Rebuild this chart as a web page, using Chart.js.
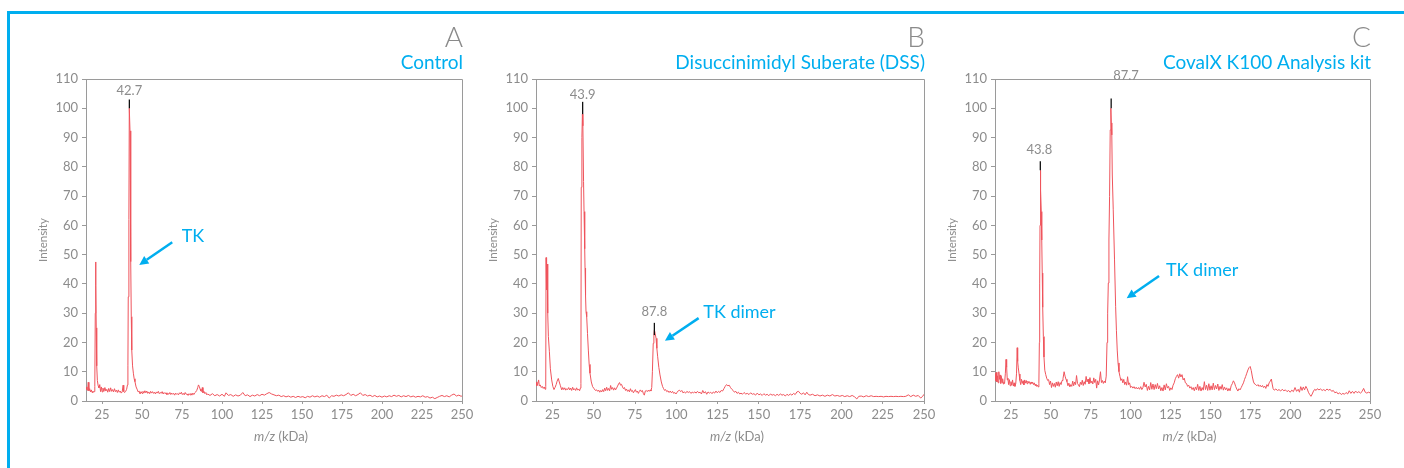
<!DOCTYPE html>
<html>
<head>
  <meta charset="utf-8">
  <title>Mass spectra: Control, DSS, CovalX K100</title>
  <script src="https://cdn.jsdelivr.net/npm/chart.js"></script>
  <style>
    body { margin: 0; background: #fff; width: 1404px; height: 468px; overflow: hidden; position: relative; font-family: Lato, sans-serif; }
    .frame { position: absolute; left: 7px; top: 11px; width: 1500px; height: 1000px; border: 3px solid #00aeef; }
    .panel { position: absolute; top: 0; }
  </style>
</head>
<body>
<div class="frame"></div>
<div class="panel" style="left:6px"><canvas id="chartA" width="476" height="468"></canvas></div>
<div class="panel" style="left:456px"><canvas id="chartB" width="488" height="468"></canvas></div>
<div class="panel" style="left:915px"><canvas id="chartC" width="475" height="468"></canvas></div>

<script>
  // panel headings
  const letters = ['A', 'B', 'C'];
  const titles = ['Control', 'Disuccinimidyl Suberate (DSS)', 'CovalX K100 Analysis kit'];

  // axes
  const xMin = 15, xMax = 250, xStep = 25;
  const yMin = 0, yMax = 110, yStep = 10;

  // spectra: [m/z (kDa), intensity]
  const specA = [
    [15,4.8],[15.5,4.0],[16,3.6],[16.4,6.4],[16.8,3.5],[17.3,4.2],[17.8,3.1],[18.3,3.8],[18.8,2.9],[19.3,3.4],
    [19.8,3.0],[20.2,3.2],[20.5,5.0],[20.8,30],[21.0,47.5],[21.2,39.5],[21.4,25],[21.7,12],[22.1,7],[22.6,5.2],
    [23.1,4.5],[23.6,5.6],[24.1,3.2],[24.6,4.8],[25.1,3.1],[25.6,4.4],[26.2,3.3],[26.8,4.6],[27.4,3.4],[28,4.0],
    [28.6,3.0],[29.2,4.3],[29.8,3.2],[30.4,4.5],[31,3.3],[31.6,3.9],[32.2,3.1],[32.8,4.2],[33.4,3.2],[34,3.7],
    [34.6,2.9],[35.2,3.8],[35.8,3.0],[36.4,3.4],[37,2.7],[37.6,3.1],[38.2,5.4],[38.6,3.2],[39.2,2.9],[39.8,3.3],
    [40.4,4.0],[40.9,5.5],[41.2,12],[41.4,35.6],[41.8,62],[42.06,100],[42.5,92.3],[42.8,72],[43.1,47.6],[43.3,28.8],
    [43.6,17.4],[44.1,12],[44.6,9.5],[45.1,7.6],[45.6,6.6],[46.3,4.8],[47.1,3.8],[47.6,3.1],[48.2,3.4],[48.8,2.4],
    [49.4,3.2],[50,2.6],[50.6,3.3],[51.2,2.7],[51.8,3.5],[52.4,2.8],[53,3.4],[53.6,2.6],[54.2,3.1],[54.8,2.5],
    [55.4,3.3],[56,2.7],[56.6,3.2],[57.2,2.6],[57.8,3.0],[58.4,2.4],[59,3.1],[59.6,2.7],[60.2,3.3],[60.8,2.5],
    [61.4,2.9],[62,2.6],[62.6,3.2],[63.2,2.4],[63.8,2.9],[64.4,2.5],[65,2.8],[65.6,2.2],[66.2,2.6],[66.8,2.3],
    [67.4,2.9],[68,2.2],[68.6,2.7],[69.2,2.3],[69.8,2.6],[70.4,2.0],[71,2.7],[71.6,2.3],[72.2,2.5],[72.8,2.1],
    [73.4,2.8],[74,2.4],[74.6,3.0],[75.2,2.2],[75.8,2.6],[76.4,2.1],[77,2.9],[77.6,2.3],[78.2,2.4],[78.8,1.9],
    [79.4,2.5],[80,2.1],[80.6,2.6],[81.2,2.0],[81.8,2.7],[82.4,2.2],[83,2.8],[83.6,3.1],[84.2,3.6],[84.8,4.5],
    [85.3,5.5],[85.8,5.0],[86.3,4.1],[86.8,3.4],[87.3,3.3],[87.7,4.6],[88.1,2.8],[88.7,3.3],[89.3,2.5],[89.9,2.9],
    [90.5,2.1],[91,2.4],[92.5,1.9],[94,2.5],[95.5,1.8],[97,2.2],[98.5,1.7],[100,2.3],[101.5,1.6],[102.5,2.8],
    [104,1.9],[105.5,2.2],[107,1.6],[108.5,2.1],[110,1.7],[111.5,2.0],[113,2.9],[114.5,1.8],[116,2.1],[117.5,1.5],
    [119,2.0],[120.5,1.7],[122,2.2],[123.5,1.8],[125,2.3],[126.5,2.0],[128,2.5],[129.5,2.9],[131,2.4],[132.5,2.1],
    [134,1.8],[135.5,2.0],[137,1.5],[138.5,1.8],[140,1.4],[141.5,1.7],[143,1.3],[144.5,1.6],[146,1.2],[147.5,1.6],
    [149,1.3],[150.5,1.5],[152,1.1],[153.5,1.6],[155,1.3],[156.5,1.8],[158,1.4],[159.5,1.7],[161,1.3],[162.5,1.8],
    [164,1.5],[165.5,2.0],[167,1.0],[168.5,1.8],[170,1.6],[171.5,2.0],[173,1.7],[174.5,2.1],[176,1.8],[177.5,2.2],
    [179,2.8],[180.5,1.9],[182,2.3],[183.5,1.8],[185,2.2],[186.5,2.8],[188,1.9],[189.5,2.2],[191,1.7],[192.5,2.0],
    [194,1.5],[195.5,1.9],[197,1.4],[198.5,1.7],[200,1.3],[201.5,1.7],[203,1.4],[204.5,1.8],[206,1.5],[207.5,2.0],
    [209,1.6],[210.5,1.9],[212,1.4],[213.5,1.8],[215,1.5],[216.5,1.9],[218,1.4],[219.5,1.7],[221,1.3],[222.5,1.6],
    [224,1.4],[225.5,1.8],[227,1.3],[228.5,1.5],[230,1.0],[231.5,1.3],[233,0.8],[234.5,1.2],[236,1.6],[237.5,1.9],
    [239,1.5],[240.5,1.8],[242,1.4],[243.5,2.0],[245,2.4],[246.5,1.7],[248,2.0],[249.5,1.6],[250,1.8]
  ];

  const specB = [
    [15,6.5],[15.5,5.2],[16,5.8],[16.6,7.2],[17,5.1],[17.6,5.5],[18.2,4.6],[18.8,5.0],[19.4,4.3],[20,4.8],
    [20.5,4.0],[20.9,5.0],[21.1,49],[21.4,38],[21.8,46.8],[22.1,30],[22.5,22],[23.1,17],[23.7,11],[24.5,7.2],
    [25.2,5.0],[25.9,3.9],[26.5,4.6],[27.2,5.6],[27.8,6.8],[28.5,7.7],[29.1,6.5],[29.8,5.2],[30.6,3.8],[31.2,4.6],
    [31.8,3.9],[32.4,4.5],[33,3.7],[33.6,4.2],[34.2,3.9],[34.8,4.6],[35.4,3.8],[36,4.4],[36.6,3.6],[37.2,4.7],
    [37.8,3.8],[38.4,4.2],[39,3.6],[39.6,4.5],[40.2,3.7],[40.8,4.1],[41.4,3.5],[41.9,4.4],[42.2,6],[42.4,73],
    [42.8,90],[43.1,98],[43.4,94],[43.8,75],[44.1,64.7],[44.5,52],[44.7,45.4],[45.0,36],[45.3,30.5],[45.7,28.8],
    [46.2,23],[46.7,17.4],[47.2,12.5],[47.7,9.5],[48.5,6.5],[49.3,4.9],[50.2,4.2],[51,3.6],[51.8,3.8],[52.4,3.3],
    [53,3.7],[53.6,3.0],[54.2,3.6],[54.8,3.1],[55.4,3.9],[56,3.2],[56.6,4.4],[57.2,3.5],[57.8,4.7],[58.4,3.6],
    [59,4.3],[59.6,3.5],[60.2,5.3],[60.8,4.0],[61.4,4.6],[62,3.7],[62.6,4.5],[63.2,3.8],[63.8,4.4],[64.4,5.1],
    [65,5.8],[65.6,6.3],[66.2,5.4],[66.8,5.7],[67.4,4.8],[68,4.2],[68.6,4.6],[69.2,3.6],[69.8,4.1],[70.4,3.3],
    [71,3.8],[71.6,3.1],[72.2,4.2],[72.8,3.3],[73.4,3.6],[74,2.8],[74.6,3.4],[75.2,3.9],[75.8,3.0],[76.4,3.4],
    [77,2.6],[77.6,3.3],[78.2,3.8],[78.8,3.2],[79.4,3.6],[80,2.6],[80.6,2.0],[81.2,3.4],[81.8,3.6],[82.4,3.2],
    [83,3.7],[83.6,3.3],[84.2,3.8],[84.6,3.4],[85.1,4.6],[85.5,10],[86.0,19.7],[86.4,22.5],[86.7,24.3],[87.2,23],
    [87.7,21.4],[88.2,18],[88.7,15.1],[89.4,11.5],[90.1,8.9],[90.9,6.5],[91.7,4.9],[92.3,4.2],[92.9,3.6],[93.5,3.9],
    [94.2,3.2],[94.9,3.5],[95.6,2.9],[96.3,3.4],[97,2.8],[97.7,3.3],[98.4,2.6],[99.1,2.9],[99.8,2.4],[100.5,3.0],
    [101.2,3.5],[101.9,3.7],[102.6,3.2],[103.3,3.6],[104,2.8],[104.8,3.1],[105.6,2.7],[106.4,3.3],[107.2,2.9],[108,3.2],
    [108.8,2.6],[109.6,3.0],[110.4,2.8],[111.2,3.1],[112,2.7],[112.8,3.3],[113.6,2.8],[114.4,3.0],[115.2,2.4],[116,3.6],
    [116.8,2.7],[117.6,3.2],[118.4,2.3],[119.2,3.1],[120,2.7],[120.8,3.0],[121.6,2.5],[122.4,3.1],[123.2,2.7],[124,3.4],
    [124.8,2.8],[125.6,3.3],[126.4,2.9],[127.2,3.6],[128,3.4],[128.8,4.2],[129.6,5.0],[130.4,5.6],[131.2,5.2],[132,5.4],
    [132.8,4.6],[133.6,4.0],[134.4,3.6],[135.2,3.0],[136,3.3],[136.8,2.6],[137.6,3.0],[138.4,2.4],[139.2,2.7],[140,2.3],
    [141,2.9],[142,2.4],[143,2.6],[144,2.2],[145,2.8],[146,2.3],[147,2.5],[148,2.0],[149,2.7],[150,2.1],
    [151,2.4],[152,1.9],[153,2.5],[154,2.0],[155,2.3],[156,1.8],[157,2.4],[158,2.0],[159,2.2],[160,1.8],
    [161,2.3],[162,1.9],[163,2.4],[164,2.0],[165,2.2],[166,1.7],[167,2.3],[168,1.9],[169,2.4],[170,2.0],
    [171,2.6],[172,2.2],[173,3.1],[174,3.3],[175,2.6],[176,2.3],[177,2.8],[178,2.1],[179,3.0],[180,2.2],
    [181,2.0],[182.5,2.3],[184,1.8],[185.5,2.1],[187,1.7],[188.5,2.0],[190,1.6],[191.5,2.0],[193,1.7],[194.5,2.2],
    [196,1.7],[197.5,1.9],[199,1.6],[200.5,1.9],[202,1.5],[203.5,1.8],[205,1.5],[206.5,1.9],[208,1.4],[209.3,0.7],
    [210.5,1.6],[212,1.7],[213.5,1.4],[215,1.8],[216.5,1.5],[218,1.8],[219.5,1.5],[221,1.6],[222.5,1.5],[224,1.6],
    [225.5,1.4],[227,1.6],[228.5,1.5],[230,1.6],[231.5,1.5],[233,1.6],[234.5,1.5],[236,1.6],[237.5,1.5],[239,1.6],
    [240.5,2.1],[242,1.5],[243.5,2.0],[245,1.6],[246.5,1.9],[248,1.0],[249.2,1.6],[250,2.3]
  ];

  const specC = [
    [15,9.4],[15.4,7.0],[15.8,9.8],[16.2,6.5],[16.6,8.6],[17,6.2],[17.4,10.0],[17.8,7.4],[18.2,8.9],[18.6,6.0],
    [19,8.4],[19.4,6.3],[19.8,7.6],[20.2,5.8],[20.6,6.4],[21,6.0],[21.5,9.5],[21.9,14.2],[22.3,11.5],[22.7,7.2],
    [23.1,7.8],[23.5,5.6],[24,7.3],[24.5,5.2],[25,6.6],[25.5,5.4],[26,7.2],[26.5,5.1],[27,6.2],[27.5,5.0],
    [28,5.9],[28.5,9.5],[28.9,18.2],[29.2,13.5],[29.6,11.3],[30.1,9.2],[30.6,7.0],[31.1,5.6],[31.6,7.4],[32.1,6.0],
    [32.6,6.9],[33.1,5.5],[33.6,7.2],[34.1,6.1],[34.6,7.0],[35.1,5.9],[35.6,6.8],[36.1,6.2],[36.6,6.6],[37.1,5.7],
    [37.6,6.5],[38.1,6.0],[38.6,6.4],[39.1,5.6],[39.6,6.2],[40.1,5.3],[40.6,5.8],[41.1,5.0],[41.6,5.4],[42.1,4.8],
    [42.5,6],[42.8,20],[43.0,40],[43.2,60],[43.4,78.8],[43.7,72],[44.0,64.7],[44.3,55],[44.6,43.7],[44.9,32],
    [45.3,22],[45.7,15],[46.2,10.5],[46.8,9],[47.4,7.8],[48,7.0],[48.6,7.3],[49.2,5.6],[49.8,6.8],[50.4,4.6],
    [51,6.2],[51.6,5.0],[52.2,6.0],[52.8,4.7],[53.4,6.5],[54,5.2],[54.6,6.6],[55.2,5.0],[55.8,6.3],[56.4,5.6],
    [57,7.0],[57.6,7.6],[58.3,10.0],[58.9,8.5],[59.5,7.4],[60.1,6.6],[60.7,5.2],[61.3,6.1],[61.9,4.8],[62.5,5.6],
    [63.1,5.0],[63.7,6.8],[64.3,5.2],[64.9,6.5],[65.5,5.6],[66.1,8.7],[66.7,6.0],[67.3,5.5],[67.9,4.9],[68.5,6.4],
    [69.1,5.6],[69.7,7.1],[70.3,5.3],[70.9,6.6],[71.5,5.7],[72.1,8.4],[72.7,6.5],[73.3,7.5],[73.9,5.9],[74.5,8.0],
    [75.1,6.1],[75.7,6.8],[76.3,5.8],[76.9,7.9],[77.5,6.3],[78.1,7.4],[78.7,4.4],[79.3,6.9],[79.9,5.5],[80.5,7.2],
    [81.1,10.0],[81.7,6.3],[82.3,7.0],[82.9,6.0],[83.5,6.8],[84.1,6.2],[84.7,8.5],[85.2,20],[85.6,30],[86.0,40.3],
    [86.4,55],[86.8,69.8],[87.2,92.6],[87.6,100],[87.9,95],[88.2,90.9],[88.5,77.2],[89.1,65.3],[89.9,48.2],[90.6,32.2],
    [91.1,24],[91.6,17.4],[92.1,13],[92.7,10],[93.3,8.4],[93.9,7.0],[94.5,7.6],[95.1,6.2],[95.7,7.4],[96.3,5.6],
    [96.9,6.5],[97.5,5.4],[98.1,8.3],[98.7,5.6],[99.3,6.2],[100,4.6],[100.7,5.0],[101.4,4.4],[102.1,4.9],[102.8,4.2],
    [103.5,4.7],[104.2,4.1],[104.9,4.6],[105.6,4.0],[106.3,4.9],[107,3.9],[107.7,4.6],[108.4,6.4],[109.1,4.8],[109.8,5.7],
    [110.5,3.6],[111.2,5.0],[111.9,3.8],[112.6,6.3],[113.3,4.0],[114,5.8],[114.7,3.9],[115.4,5.6],[116.1,4.2],[116.8,6.0],
    [117.5,4.1],[118.2,5.2],[118.9,3.5],[119.6,4.6],[120.3,3.4],[121,5.5],[121.7,3.8],[122.4,5.9],[123.1,4.4],[123.8,5.0],
    [124.5,3.6],[125.2,4.5],[125.9,3.9],[126.6,5.4],[127.3,6.2],[128,7.6],[128.7,8.4],[129.4,9.0],[130.1,7.8],[130.8,9.3],
    [131.5,8.2],[132.2,9.0],[132.9,7.2],[133.6,7.8],[134.3,6.2],[135,6.0],[135.7,5.0],[136.4,5.4],[137.1,4.4],[137.8,4.9],
    [138.5,3.9],[139.2,4.6],[139.9,3.5],[140.6,4.8],[141.3,3.8],[142,5.7],[142.7,3.6],[143.4,5.0],[144.1,3.4],[144.8,4.6],
    [145.5,3.7],[146.2,6.6],[146.9,3.9],[147.6,5.4],[148.3,3.6],[149,5.9],[149.7,3.7],[150.4,5.2],[151.1,3.8],[151.8,6.1],
    [152.5,3.9],[153.2,5.3],[153.9,4.1],[154.6,5.8],[155.3,3.6],[156,5.0],[156.7,4.0],[157.4,5.6],[158.1,3.7],[158.8,4.8],
    [159.5,3.8],[160.2,4.5],[160.9,3.4],[161.6,4.3],[162.3,3.5],[163,5.2],[163.7,5.9],[164.4,6.9],[165.1,6.2],[165.8,5.0],
    [166.5,4.1],[167.2,3.4],[167.9,4.2],[168.6,3.8],[169.3,4.6],[170,5.4],[170.7,6.2],[171.4,7.4],[172.1,8.4],[172.8,9.5],
    [173.5,10.6],[174.2,11.4],[174.9,11.8],[175.6,10.4],[176.3,8.2],[177,6.5],[177.7,5.8],[178.4,5.6],[179.1,5.2],[179.8,5.6],
    [180.5,5.0],[181.2,5.4],[181.9,4.8],[182.6,5.3],[183.3,4.6],[184,5.1],[184.7,4.3],[185.4,5.6],[186.1,5.0],[186.8,6.2],
    [187.5,6.8],[188.2,7.5],[188.7,5.8],[189.3,4.2],[190,3.7],[191,4.1],[192,3.6],[193,3.9],[194,3.4],[195,4.0],
    [196,3.5],[197,3.8],[198,3.2],[199,3.6],[200,3.0],[201,3.7],[202,3.2],[203,4.6],[204,3.3],[205,4.0],
    [205.8,3.0],[206.6,4.9],[207.4,3.6],[208.2,4.8],[209,3.8],[209.8,5.0],[210.6,4.2],[211.4,3.0],[212.2,2.2],[213,1.6],
    [213.8,2.4],[214.6,3.4],[215.4,4.0],[216.2,3.6],[217,4.2],[218,3.8],[219,4.1],[220,3.6],[221,3.9],[222,3.5],
    [223,4.1],[224,3.7],[225,4.0],[226,3.3],[227,3.6],[228,2.8],[229,3.1],[230,2.4],[231,2.8],[232,2.2],
    [233,2.6],[234,2.3],[235,2.9],[236,2.4],[237,3.5],[238,2.6],[239,3.3],[240,2.6],[241,3.4],[242,2.8],
    [243,3.2],[244,2.7],[245,3.2],[246,4.3],[247,3.0],[248,2.7],[249,3.0],[250,2.8]
  ];

  // centroid marks at the peak tops: [m/z, from, to]
  const marksA = [[42.1, 100, 103]];
  const marksB = [[43.25, 98, 102.2], [86.7, 22.5, 26.7]];
  const marksC = [[43.4, 78.8, 81.9], [87.8, 100, 103.3]];

  // peak labels: [text, m/z, intensity]
  const labelsA = [['42.7', 42.1, 105.9]];
  const labelsB = [['43.9', 43.25, 104.6], ['87.8', 86.7, 30.4]];
  const labelsC = [['43.8', 42.8, 85.9], ['87.7', 97.1, 111]];

  // callouts: [text, text m/z, text intensity, arrow from m/z, from intensity, to m/z, to intensity]
  const calloutA = ['TK', 74.8, 56.4, 68.9, 54.2, 48.3, 46.5];
  const calloutB = ['TK dimer', 116.3, 30.2, 113.5, 28.3, 93.1, 20.6];
  const calloutC = ['TK dimer', 122.1, 44.8, 117.8, 42.7, 97.5, 35.1];

  const RED = 'rgb(239, 84, 92)';
  const BLUE = '#00aeef';
  const GREY = '#8c8c8c';
  const AXIS = '#9a9a9a';
  const FONT = 'Lato, "Open Sans", sans-serif';

  function drawArrow(ctx, x1, y1, x2, y2) {
    const ang = Math.atan2(y2 - y1, x2 - x1), head = 9, w = 4.5;
    const bx = x2 - head * Math.cos(ang), by = y2 - head * Math.sin(ang);
    ctx.lineWidth = 2.5;
    ctx.beginPath(); ctx.moveTo(x1, y1); ctx.lineTo(bx, by); ctx.stroke();
    ctx.beginPath();
    ctx.moveTo(x2, y2);
    ctx.lineTo(bx + w * Math.sin(ang), by - w * Math.cos(ang));
    ctx.lineTo(bx - w * Math.sin(ang), by + w * Math.cos(ang));
    ctx.closePath(); ctx.fill();
  }

  // frame, headings, axis titles, peak labels and callouts
  const decor = {
    id: 'decor',
    afterDraw(chart, args, o) {
      const { ctx, chartArea: a, scales: { x, y } } = chart;
      ctx.save();
      ctx.strokeStyle = AXIS; ctx.lineWidth = 1;
      ctx.beginPath();
      ctx.moveTo(a.left, a.top + 0.5); ctx.lineTo(a.right + 0.5, a.top + 0.5); ctx.lineTo(a.right + 0.5, a.bottom);
      ctx.stroke();

      ctx.textAlign = 'right'; ctx.textBaseline = 'alphabetic';
      ctx.fillStyle = '#8a8a8a'; ctx.font = '300 28px ' + FONT;
      ctx.fillText(o.letter, a.right + 1, 46.5);
      ctx.fillStyle = BLUE; ctx.font = '19px ' + FONT;
      ctx.fillText(o.title, a.right + 1, 68.5);

      // y title
      ctx.save();
      ctx.translate(a.left - 43, (a.top + a.bottom) / 2);
      ctx.rotate(-Math.PI / 2);
      ctx.textAlign = 'center'; ctx.textBaseline = 'middle';
      ctx.fillStyle = GREY; ctx.font = '11.5px ' + FONT;
      ctx.fillText('Intensity', 0, 0);
      ctx.restore();

      // x title with italic m/z
      ctx.textBaseline = 'middle'; ctx.textAlign = 'left'; ctx.fillStyle = GREY;
      ctx.font = 'italic 13px ' + FONT;
      const w1 = ctx.measureText('m/z').width;
      ctx.font = '13px ' + FONT;
      const w2 = ctx.measureText(' (kDa)').width;
      const cx = (a.left + a.right) / 2 + 7 - (w1 + w2) / 2;
      ctx.font = 'italic 13px ' + FONT; ctx.fillText('m/z', cx, 437);
      ctx.font = '13px ' + FONT; ctx.fillText(' (kDa)', cx + w1, 437);

      // peak labels
      ctx.textAlign = 'center'; ctx.font = '13px ' + FONT; ctx.fillStyle = GREY;
      o.labels.forEach(l => ctx.fillText(l[0], x.getPixelForValue(l[1]), y.getPixelForValue(l[2])));

      // callout
      const c = o.callout;
      ctx.fillStyle = BLUE; ctx.strokeStyle = BLUE;
      ctx.textAlign = 'left'; ctx.font = '18px ' + FONT;
      ctx.fillText(c[0], x.getPixelForValue(c[1]), y.getPixelForValue(c[2]));
      drawArrow(ctx, x.getPixelForValue(c[3]), y.getPixelForValue(c[4]), x.getPixelForValue(c[5]), y.getPixelForValue(c[6]));
      ctx.restore();
    }
  };

  function makeChart(id, letter, title, spectrum, marks, labels, callout) {
    const tickFont = { family: FONT, size: 13 };
    new Chart(document.getElementById(id), {
      type: 'line',
      data: {
        datasets: [
          { data: spectrum, borderColor: RED, borderWidth: 1, pointRadius: 0, tension: 0, order: 1 },
          ...marks.map(m => ({ data: [[m[0], m[1]], [m[0], m[2]]], borderColor: '#111', borderWidth: 1.3, pointRadius: 0, order: 0 }))
        ]
      },
      options: {
        responsive: false,
        animation: false,
        events: [],
        layout: { padding: { top: 79, left: 0, right: 20, bottom: 0 } },
        plugins: {
          legend: { display: false },
          tooltip: { enabled: false },
          decor: { letter, title, labels, callout }
        },
        scales: {
          x: {
            type: 'linear', min: xMin, max: xMax,
            border: { color: AXIS, width: 1 },
            grid: { drawOnChartArea: false, drawTicks: true, tickLength: 3, color: AXIS },
            ticks: { stepSize: xStep, includeBounds: false, maxRotation: 0, autoSkip: false, color: GREY, font: tickFont, padding: 3 },
            afterFit(s) { s.height = 67; s.paddingLeft = 0; s.paddingRight = 0; }
          },
          y: {
            min: yMin, max: yMax,
            border: { color: AXIS, width: 1 },
            grid: { drawOnChartArea: false, drawTicks: true, tickLength: 4, color: AXIS },
            ticks: { stepSize: yStep, color: GREY, font: tickFont, padding: 4 },
            afterFit(s) { s.width = 80; s.paddingTop = 0; s.paddingBottom = 0; }
          }
        }
      },
      plugins: [decor]
    });
  }

  makeChart('chartA', letters[0], titles[0], specA, marksA, labelsA, calloutA);
  makeChart('chartB', letters[1], titles[1], specB, marksB, labelsB, calloutB);
  makeChart('chartC', letters[2], titles[2], specC, marksC, labelsC, calloutC);
</script>
</body>
</html>
